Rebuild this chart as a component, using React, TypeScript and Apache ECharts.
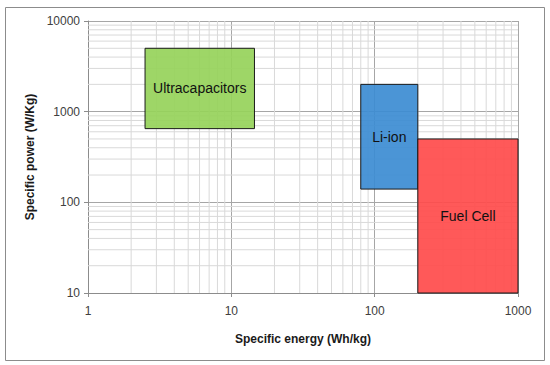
import React, { useEffect, useRef } from "react";
import * as echarts from "echarts";

const xTicks = [1, 10, 100, 1000];
const yTicks = [10, 100, 1000, 10000];
const minorMultipliers = [2, 3, 4, 5, 6, 7, 8, 9];
const xDecades = [1, 10, 100];
const yDecades = [10, 100, 1000];

const boxNames = ["Ultracapacitors", "Li-ion", "Fuel Cell"];
const energyMin = [2.5, 80, 200];
const energyMax = [14.5, 200, 1000];
const powerMin = [650, 140, 10];
const powerMax = [5000, 2000, 500];
const boxColors = ["rgba(150,210,90,0.92)", "rgba(60,140,210,0.92)", "rgba(255,75,75,0.92)"];

export default function App() {
  const ref = useRef<HTMLDivElement>(null);
  useEffect(() => {
    if (!ref.current) return;
    const chart = echarts.init(ref.current, null, { renderer: "svg" });
    const xMinor: number[] = [];
    xDecades.forEach((d) => minorMultipliers.forEach((m) => xMinor.push(d * m)));
    const yMinor: number[] = [];
    yDecades.forEach((d) => minorMultipliers.forEach((m) => yMinor.push(d * m)));
    const xMin = xTicks[0], xMax = xTicks[xTicks.length - 1];
    const yMin = yTicks[0], yMax = yTicks[yTicks.length - 1];
    const minorData = [
      ...xMinor.map((v) => [0, v]),
      ...yMinor.map((v) => [1, v]),
    ];
    const boxData = boxNames.map((n, i) => [energyMin[i], energyMax[i], powerMin[i], powerMax[i], i]);
    const font = "'Liberation Sans', Arial, sans-serif";
    const fmt = (v: number) => String(Math.round(v));
    chart.setOption({
      animation: false,
      graphic: [
        {
          type: "rect",
          shape: { x: 5.5, y: 7.5, width: 539, height: 353 },
          style: { fill: "none", stroke: "#8c8c8c", lineWidth: 1 },
          z: -10,
          silent: true,
        },
      ],
      grid: { left: 88, right: 32, top: 21, bottom: 72 },
      xAxis: {
        type: "log",
        logBase: 10,
        min: xMin,
        max: xMax,
        name: "Specific energy (Wh/kg)",
        nameLocation: "middle",
        nameGap: 40,
        nameTextStyle: { fontFamily: font, fontWeight: "bold", fontSize: 12, color: "#1a1a1a" },
        axisLine: { lineStyle: { color: "#8c8c8c", width: 1 } },
        axisTick: { show: true, length: 4, lineStyle: { color: "#8c8c8c" } },
        axisLabel: { fontFamily: font, fontSize: 12, color: "#404040", margin: 12, formatter: fmt },
        splitLine: { show: true, lineStyle: { color: "#a6a6a6", width: 1 } },
      },
      yAxis: {
        type: "log",
        logBase: 10,
        min: yMin,
        max: yMax,
        name: "Specific power (W/Kg)",
        nameLocation: "middle",
        nameGap: 52,
        nameTextStyle: { fontFamily: font, fontWeight: "bold", fontSize: 12, color: "#1a1a1a" },
        axisLine: { show: true, lineStyle: { color: "#8c8c8c", width: 1 } },
        axisTick: { show: true, length: 4, lineStyle: { color: "#8c8c8c" } },
        axisLabel: { fontFamily: font, fontSize: 12, color: "#404040", margin: 8, formatter: fmt },
        splitLine: { show: true, lineStyle: { color: "#a6a6a6", width: 1 } },
      },
      series: [
        {
          type: "custom",
          silent: true,
          z: 1,
          data: minorData,
          renderItem: (params: any, api: any) => {
            const dir = api.value(0);
            const v = api.value(1);
            let p0, p1;
            if (dir === 0) {
              p0 = api.coord([v, yMin]);
              p1 = api.coord([v, yMax]);
            } else {
              p0 = api.coord([xMin, v]);
              p1 = api.coord([xMax, v]);
            }
            return {
              type: "line",
              shape: { x1: p0[0], y1: p0[1], x2: p1[0], y2: p1[1] },
              style: { stroke: "#d9d9d9", lineWidth: 1 },
            };
          },
        },
        {
          type: "custom",
          z: 5,
          data: boxData,
          renderItem: (params: any, api: any) => {
            const idx = api.value(4);
            const a = api.coord([api.value(0), api.value(3)]);
            const b = api.coord([api.value(1), api.value(2)]);
            return {
              type: "rect",
              shape: { x: a[0], y: a[1], width: b[0] - a[0], height: b[1] - a[1] },
              style: { fill: boxColors[idx], stroke: "#1a1a1a", lineWidth: 1 },
              textContent: {
                style: {
                  text: boxNames[idx],
                  fontFamily: font,
                  fontSize: 14,
                  fill: "#111111",
                },
              },
              textConfig: { position: "inside" },
            };
          },
        },
      ],
    });
    return () => chart.dispose();
  }, []);
  return (
    <div
      ref={ref}
      style={{ position: "absolute", left: 0, top: 0, width: 550, height: 365, background: "#ffffff" }}
    />
  );
}
